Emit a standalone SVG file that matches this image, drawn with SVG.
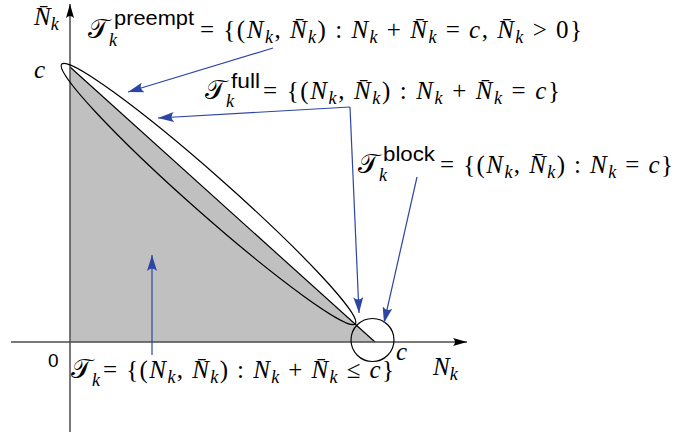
<svg xmlns="http://www.w3.org/2000/svg" width="678" height="435" viewBox="0 0 678 435">
<style>
.m{font-family:"Liberation Serif","DejaVu Serif",serif;font-size:25px;fill:#000}
.i{font-style:italic}
.s{font-style:italic;font-size:18px}
.cal{font-family:"DejaVu Serif","Liberation Serif",serif;font-size:27px}
.sup{font-family:"Liberation Sans","DejaVu Sans",sans-serif;font-size:21px;font-style:normal}
.sf{font-family:"Liberation Sans","DejaVu Sans",sans-serif;font-size:19px;fill:#000}
.ax{stroke:#4d4d4d;stroke-width:1.5;fill:none}
.bl{stroke:#2d46a3;stroke-width:1.2;fill:none}
.ol{stroke:#000;stroke-width:1.2;fill:none}
</style>
<defs>
<marker id="ka" viewBox="-14 -4 14 8" markerWidth="14" markerHeight="8" refX="0" refY="0" orient="auto" markerUnits="userSpaceOnUse"><path d="M0,0 L-14,-4 Q-10,0 -14,4 Z" fill="#000"/></marker>
<marker id="ba" viewBox="-16 -5 16 10" markerWidth="16" markerHeight="10" refX="0" refY="0" orient="auto" markerUnits="userSpaceOnUse"><path d="M0,0 L-16,-5 Q-11,0 -16,5 Z" fill="#2d46a3"/></marker>
</defs>
<rect width="678" height="435" fill="#fff"/>
<g id="region">
<polygon points="70,67 70,342 375,342" fill="#c0c0c0"/>
<line x1="70" y1="67" x2="375" y2="342" class="ol"/>
</g>
<g id="axes">
<line x1="11" y1="342" x2="467" y2="342" class="ax" marker-end="url(#ka)"/>
<line x1="70" y1="432" x2="70" y2="4" class="ax" marker-end="url(#ka)"/>
</g>
<g id="ellipse-set">
<ellipse cx="208.5" cy="194" rx="196" ry="19" transform="rotate(41.5 208.5 194)" class="ol"/>
</g>
<g id="circle-set">
<circle cx="372.5" cy="340" r="21.5" class="ol"/>
</g>
<g id="axis-labels">
<text class="m" x="34" y="25"><tspan class="i">N̄</tspan><tspan class="s" dy="5">k</tspan></text>
<text class="m i" x="34" y="78">c</text>
<text class="sf" x="48" y="367">0</text>
<text class="m i" x="396" y="360">c</text>
<text class="m" x="433" y="375"><tspan class="i">N</tspan><tspan class="s" dy="5">k</tspan></text>
</g>
<g id="label-preempt">
<text class="m" x="88" y="38"><tspan class="cal">𝒯</tspan><tspan class="s" dy="8">k</tspan><tspan class="sup" x="114" dy="-21" textLength="80" lengthAdjust="spacingAndGlyphs">preempt</tspan></text>
<text class="m" x="200" y="38" textLength="382" lengthAdjust="spacing">= {(<tspan class="i">N</tspan><tspan class="s" dy="5">k</tspan><tspan dy="-5">, </tspan><tspan class="i">N̄</tspan><tspan class="s" dy="5">k</tspan><tspan dy="-5">) : </tspan><tspan class="i">N</tspan><tspan class="s" dy="5">k</tspan><tspan dy="-5"> + </tspan><tspan class="i">N̄</tspan><tspan class="s" dy="5">k</tspan><tspan dy="-5"> = </tspan><tspan class="i">c</tspan>, <tspan class="i">N̄</tspan><tspan class="s" dy="5">k</tspan><tspan dy="-5"> &gt; 0}</tspan></text>
</g>
<g id="label-full">
<text class="m" x="205" y="99"><tspan class="cal">𝒯</tspan><tspan class="s" dy="8">k</tspan><tspan class="sup" x="231" dy="-19" textLength="29" lengthAdjust="spacingAndGlyphs">full</tspan></text>
<text class="m" x="263" y="99" textLength="297" lengthAdjust="spacing">= {(<tspan class="i">N</tspan><tspan class="s" dy="5">k</tspan><tspan dy="-5">, </tspan><tspan class="i">N̄</tspan><tspan class="s" dy="5">k</tspan><tspan dy="-5">) : </tspan><tspan class="i">N</tspan><tspan class="s" dy="5">k</tspan><tspan dy="-5"> + </tspan><tspan class="i">N̄</tspan><tspan class="s" dy="5">k</tspan><tspan dy="-5"> = </tspan><tspan class="i">c</tspan>}</text>
</g>
<g id="label-block">
<text class="m" x="358" y="173"><tspan class="cal">𝒯</tspan><tspan class="s" dy="8">k</tspan><tspan class="sup" x="383" dy="-20" textLength="52" lengthAdjust="spacingAndGlyphs">block</tspan></text>
<text class="m" x="440" y="173" textLength="233" lengthAdjust="spacing">= {(<tspan class="i">N</tspan><tspan class="s" dy="5">k</tspan><tspan dy="-5">, </tspan><tspan class="i">N̄</tspan><tspan class="s" dy="5">k</tspan><tspan dy="-5">) : </tspan><tspan class="i">N</tspan><tspan class="s" dy="5">k</tspan><tspan dy="-5"> = </tspan><tspan class="i">c</tspan>}</text>
</g>
<g id="label-total">
<text class="m" x="71" y="378"><tspan class="cal">𝒯</tspan><tspan class="s" dy="8">k</tspan><tspan x="103" dy="-8" textLength="291" lengthAdjust="spacing">= {(<tspan class="i">N</tspan><tspan class="s" dy="5">k</tspan><tspan dy="-5">, </tspan><tspan class="i">N̄</tspan><tspan class="s" dy="5">k</tspan><tspan dy="-5">) : </tspan><tspan class="i">N</tspan><tspan class="s" dy="5">k</tspan><tspan dy="-5"> + </tspan><tspan class="i">N̄</tspan><tspan class="s" dy="5">k</tspan><tspan dy="-5"> ≤ </tspan><tspan class="i">c</tspan>}</tspan></text>
</g>
<g id="connectors">
<line x1="273" y1="48" x2="128" y2="92" class="bl" marker-end="url(#ba)"/>
<line x1="350" y1="107" x2="158" y2="118" class="bl" marker-end="url(#ba)"/>
<line x1="350" y1="107" x2="359" y2="313" class="bl" marker-end="url(#ba)"/>
<line x1="417" y1="177" x2="384" y2="323" class="bl" marker-end="url(#ba)"/>
<line x1="152" y1="355" x2="152" y2="255" class="bl" marker-end="url(#ba)"/>
</g>
</svg>
